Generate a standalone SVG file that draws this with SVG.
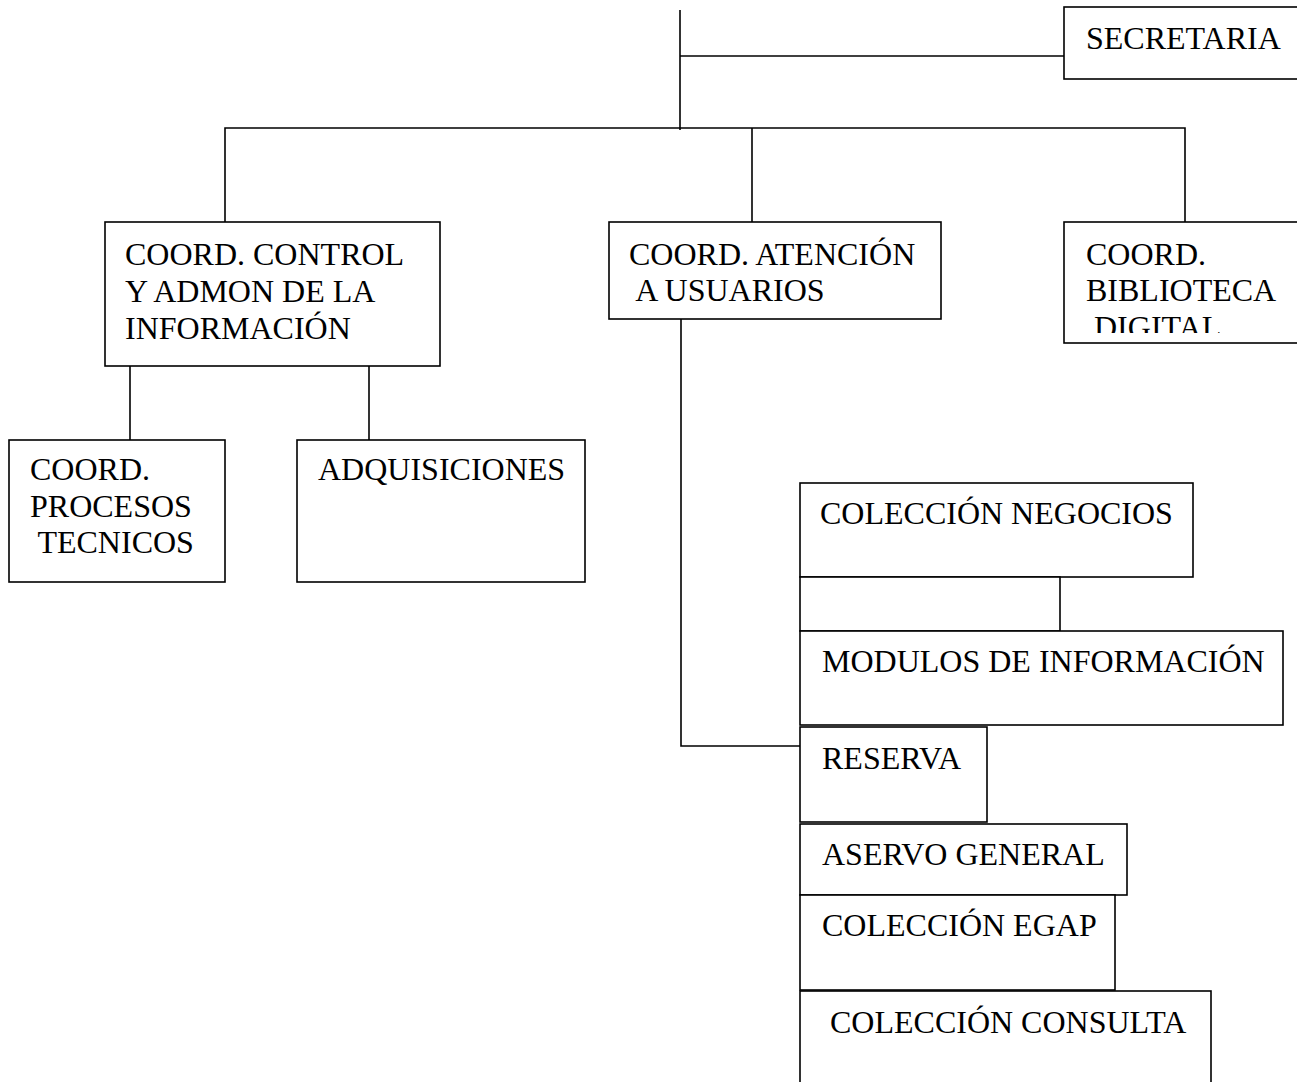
<svg xmlns="http://www.w3.org/2000/svg" width="1297" height="1082" viewBox="0 0 1297 1082">
<style>
.box{fill:#fff;stroke:#000;stroke-width:1.6}
.ln{fill:none;stroke:#000;stroke-width:1.6}
text{font-family:"Liberation Serif","Times New Roman",serif;font-size:32px;fill:#000;white-space:pre}
</style>
<defs>
<clipPath id="clipDig"><rect x="1064" y="222" width="240" height="111"/></clipPath>
</defs>
<rect width="1297" height="1082" fill="#fff"/>
<g id="connectors">
<path class="ln" d="M680,10 V130"/>
<path class="ln" d="M680,56 H1064"/>
<path class="ln" d="M225,222 V128 H1185 V222"/>
<path class="ln" d="M752,128 V222"/>
<path class="ln" d="M130,366 V440"/>
<path class="ln" d="M369,366 V440"/>
<path class="ln" d="M681,319 V746 H800"/>
</g>
<g id="secretaria">
<rect class="box" x="1064" y="7" width="240" height="72"/>
<text x="1086" y="49">SECRETARIA</text>
</g>
<g id="coord-control">
<rect class="box" x="105" y="222" width="335" height="144"/>
<text x="125" y="265">COORD. CONTROL</text>
<text x="125" y="302">Y ADMON DE LA</text>
<text x="125" y="339">INFORMACIÓN</text>
</g>
<g id="coord-atencion">
<rect class="box" x="609" y="222" width="332" height="97"/>
<text x="629" y="265">COORD. ATENCIÓN</text>
<text x="629" y="301"> A USUARIOS</text>
</g>
<g id="coord-biblioteca">
<rect class="box" x="1064" y="222" width="240" height="121"/>
<g clip-path="url(#clipDig)">
<text x="1086" y="265">COORD.</text>
<text x="1086" y="301">BIBLIOTECA</text>
<text x="1086" y="338"> DIGITAL</text>
</g>
</g>
<g id="coord-procesos">
<rect class="box" x="9" y="440" width="216" height="142"/>
<text x="30" y="480">COORD.</text>
<text x="30" y="517">PROCESOS</text>
<text x="30" y="553"> TECNICOS</text>
</g>
<g id="adquisiciones">
<rect class="box" x="297" y="440" width="288" height="142"/>
<text x="318" y="480">ADQUISICIONES</text>
</g>
<g id="coleccion-negocios">
<rect class="box" x="800" y="483" width="393" height="94"/>
<text x="820" y="524">COLECCIÓN NEGOCIOS</text>
</g>
<g id="blank-box">
<rect class="box" x="800" y="577" width="260" height="54"/>
</g>
<g id="modulos">
<rect class="box" x="800" y="631" width="483" height="94"/>
<text x="822" y="672">MODULOS DE INFORMACIÓN</text>
</g>
<g id="reserva">
<rect class="box" x="800" y="727" width="187" height="95"/>
<text x="822" y="769">RESERVA</text>
</g>
<g id="aservo">
<rect class="box" x="800" y="824" width="327" height="71"/>
<text x="822" y="865">ASERVO GENERAL</text>
</g>
<g id="egap">
<rect class="box" x="800" y="895" width="315" height="95"/>
<text x="822" y="936">COLECCIÓN EGAP</text>
</g>
<g id="consulta">
<rect class="box" x="800" y="991" width="411" height="100"/>
<text x="830" y="1033">COLECCIÓN CONSULTA</text>
</g>
</svg>
